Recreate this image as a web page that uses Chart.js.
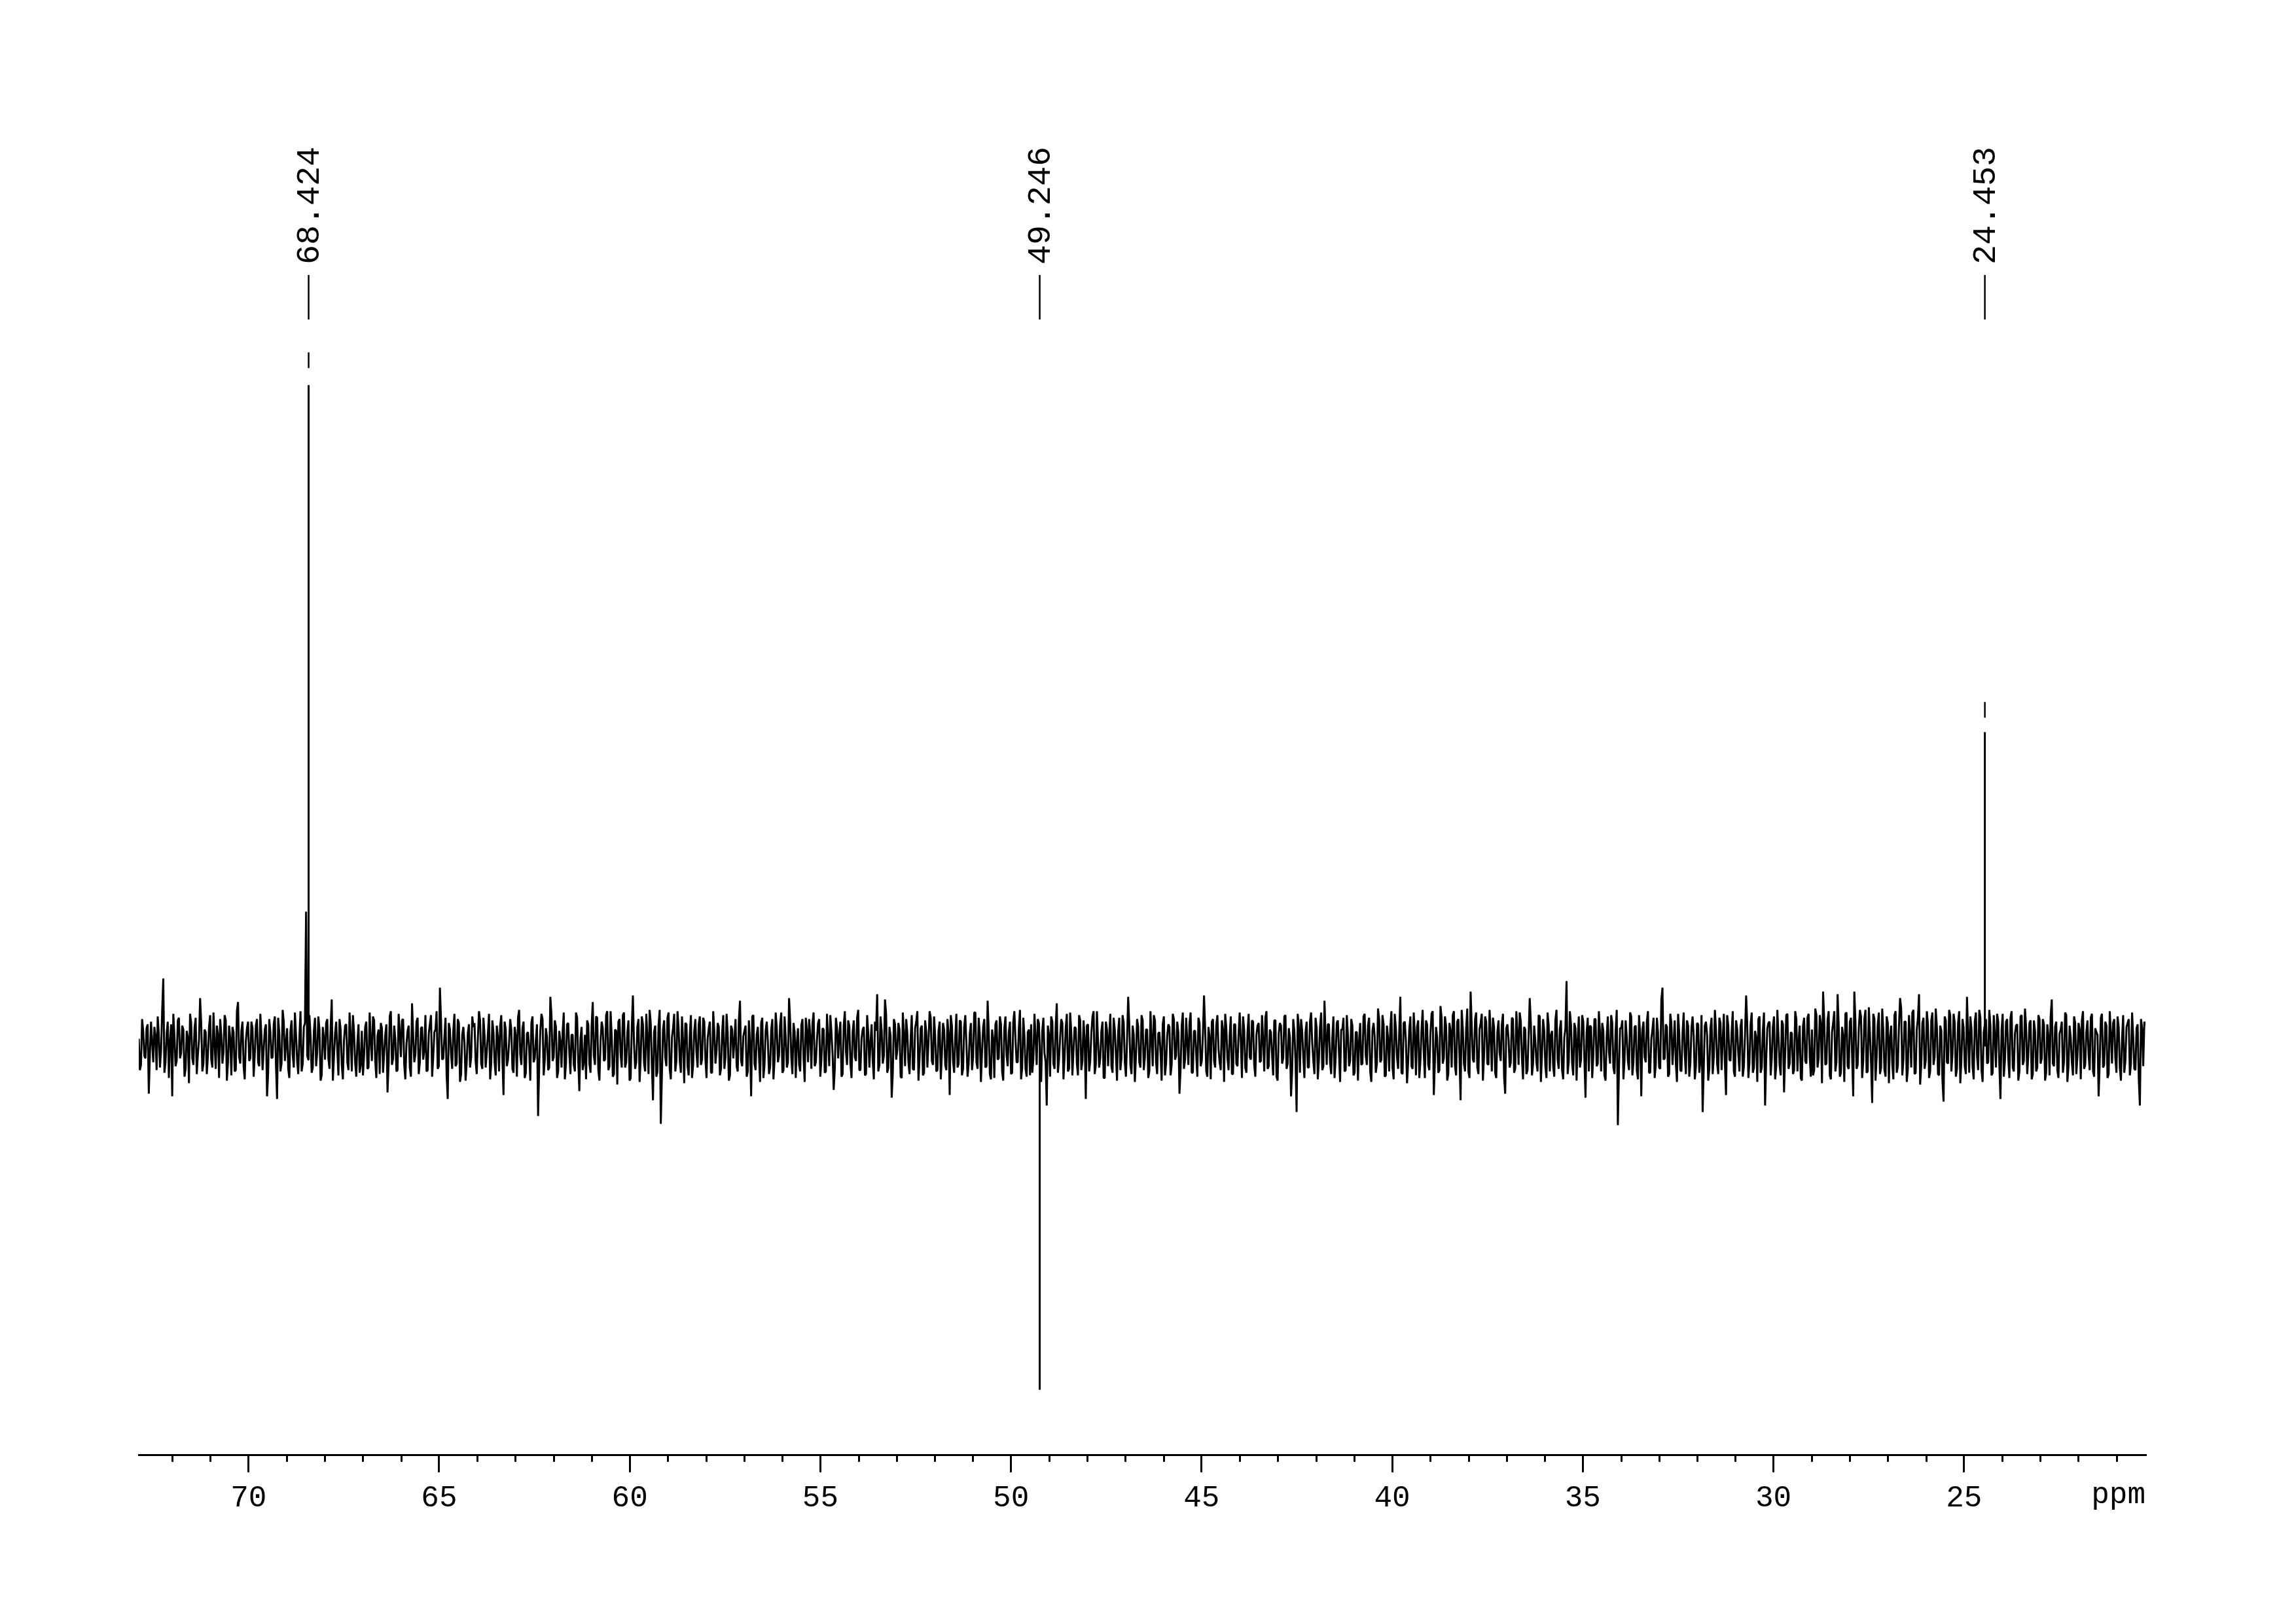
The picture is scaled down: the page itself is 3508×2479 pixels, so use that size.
<!DOCTYPE html>
<html>
<head>
<meta charset="utf-8">
<title>DEPT spectrum</title>
<script src="https://cdn.jsdelivr.net/npm/chart.js@4.4.1/dist/chart.umd.min.js"></script>
<style>
  html, body { margin: 0; padding: 0; background: #fff; }
  #spec { display: block; }
</style>
</head>
<body>
<canvas id="spec" width="3508" height="2479"></canvas>
<script>
// ---- data (intensity in arbitrary units, ppm on x) ----
const ppmLeft = 72.88;
const ppmRight = 20.24;

// baseline noise, two interleaved halves sampled evenly from ppmLeft to ppmRight
const noiseA = [
  6,-14,12,-9,17,-6,3,15,-18,9,-3,52,-12,19,4,-38,8,-11,22,-5,13,-17,7,25,-9,14,-21,5,18,-13,11,-7,24,-16,2,16,-24,9,-4,20,-12,6,15,-19,27,-8,12,-15,4,19,
  -9,14,-6,21,-15,8,-2,17,-20,11,-8,23,-40,10,-13,19,3,-17,12,-6,26,-11,7,-19,15,103,-10,9,-16,22,-4,13,-22,6,18,-9,14,-26,10,-3,21,-14,5,17,-18,8,24,-12,3,-20,
  12,-7,19,-16,4,23,-11,8,-21,14,-5,17,-13,27,-9,6,-18,11,20,-14,2,16,-23,9,-6,22,-12,15,-3,-19,10,24,-8,13,-17,45,-10,7,-22,18,-6,12,-15,21,-27,9,3,-12,17,-8,
  15,-11,6,20,-17,9,-4,25,-13,11,-22,7,16,-9,19,-15,3,13,-20,8,22,-6,14,-24,10,-2,18,-12,5,-53,12,21,-10,7,-16,24,-8,15,-19,4,11,-25,17,-5,9,-14,26,-11,6,-18,
  9,20,-13,16,-7,23,-18,4,14,-10,27,-15,8,-21,12,19,-6,24,-16,10,-26,15,2,-12,21,-9,17,-19,6,28,-14,11,-23,16,-59,13,-8,22,-17,7,25,-11,14,-20,3,18,-15,9,-24,12,
  -5,17,-14,22,-9,6,19,-20,11,-3,15,-17,24,-8,10,-22,13,5,-15,20,-11,8,16,-19,2,23,-13,9,-6,18,-24,12,4,-16,21,-10,14,-7,26,-18,7,-12,19,-21,11,3,-14,16,-9,22,
  -12,8,18,-15,5,21,-10,13,-19,7,24,-6,-17,14,9,-23,16,-4,20,-13,11,-8,22,-18,6,15,-21,10,3,-11,19,40,-14,12,-7,25,-16,8,-20,17,-3,13,-24,9,21,-12,6,-17,14,27,
  -9,16,-20,11,4,22,-14,8,-18,19,-6,13,-18,10,24,-11,7,-16,20,-22,15,2,-13,18,-8,26,-17,9,-4,21,-15,12,-25,6,17,-10,23,-19,14,-7,11,-21,19,5,-12,28,-16,8,-23,13,
  17,-10,6,21,-16,12,-5,-45,9,23,-13,15,-20,7,18,-8,25,-17,11,-3,14,-22,20,-11,6,16,-19,10,27,-14,4,-9,19,-24,13,8,-15,22,-6,11,-18,24,-12,5,17,-21,9,-7,15,-16,
  20,-8,13,-19,6,24,-12,10,-4,17,-22,8,15,-14,21,-7,11,-17,26,-10,3,18,-20,12,-6,22,-15,9,14,-23,7,19,-11,16,-2,-18,13,25,-9,8,-21,17,-13,10,4,23,-16,11,-8,20,
  -14,9,18,-11,5,22,-17,13,-6,20,-23,10,16,-9,24,-13,7,-19,12,-50,15,21,-8,11,-16,19,3,-21,14,-10,26,-15,8,17,-12,6,-24,18,-5,13,22,-18,9,-11,16,-20,11,4,-14,23,
  -7,16,-19,12,8,-13,21,-10,17,-22,6,14,-16,25,-8,11,-20,18,4,-12,23,-17,9,15,-24,13,-5,20,-14,10,27,-11,7,-18,22,-9,16,-21,12,24,-15,19,-7,28,-13,14,-19,42,-10,21,
  -16,13,25,-8,19,-14,9,22,-20,11,-5,17,-23,14,6,-12,21,-17,10,26,-9,15,-21,8,18,-13,4,-19,23,-6,12,-24,16,9,-15,20,-10,13,-18,7,50,-11,17,-22,14,5,-16,24,-9,11,
  -19,15,-7,21,-13,10,18,-22,8,-4,24,-16,12,-60,14,20,-10,7,-18,23,-12,16,-25,9,13,-8,19,-20,6,22,-14,11,-17,45,-9,15,-21,18,3,-13,25,-18,10,-6,20,-23,14,8,-15,17,
  -11,-50,16,9,-17,22,-8,13,-21,18,5,-14,24,-10,11,-19,20,-6,15,-23,9,17,-12,26,-16,7,21,-20,12,-45,14,19,-9,23,-15,8,-22,17,-5,25,-13,10,-18,21,4,-24,16,-11,22,-7,
  13,-18,24,-9,17,42,-14,20,-22,11,27,-12,16,-20,8,25,-15,19,-7,42,-17,14,23,-11,28,-19,10,-43,21,-8,26,-16,12,-23,18,7,-13,24,-20,15,29,-10,19,-17,9,26,-21,13,40,-14,
  22,-11,17,-19,26,-8,15,-22,12,-42,20,-13,24,-6,18,-17,27,-10,14,-21,9,23,-15,19,-7,28,-18,11,21,-12,16,-20,8,25,-14,13,-23,19,-9,22,-16,10,17,-19,24,-11,15,-6,20,-21,
  12,-16,21,-9,17,-20,8,23,-13,15,-18,10,19,-11,24,-15,7,-22,18,-8,13,20,-17,11,-6,22,-19,14,9,-12,25,-14,16,-21,10,18,-9,23,-16,6,-20,15,21,-13,8,-18,17,-45,14,19
];
const noiseB = [
  -18,21,-7,14,-36,19,-12,8,23,-16,28,-20,10,-24,17,25,-15,20,-9,16,-23,12,-28,18,-14,22,-6,37,-19,13,-21,15,-10,26,-17,9,21,-13,24,-26,16,-22,11,-18,34,-13,19,-25,14,-11,
  19,-23,16,-12,25,-18,13,-38,21,-9,17,-14,22,-19,28,-11,14,-24,20,-16,9,-21,27,-13,18,-7,24,-20,12,-15,23,-26,15,-10,21,-17,36,-8,19,-22,13,-25,16,-12,26,-19,11,-23,17,-14,
  -22,15,-17,26,-11,20,-24,13,18,-20,9,-35,23,-14,16,-19,25,-8,21,-25,12,-16,33,-12,19,-21,14,-10,24,-18,17,-23,11,27,-15,20,-9,22,-40,13,-17,25,-13,18,-21,15,-26,10,-16,23,
  18,-21,27,-13,22,-16,10,-25,20,-12,16,-19,24,-37,13,-10,21,-17,15,-23,28,-14,19,-20,11,-26,23,-9,17,-15,25,-22,14,-18,38,-11,20,-24,12,-16,26,-13,18,-21,9,-19,22,-34,15,-12,
  -25,17,-20,34,-14,22,-26,19,-11,24,-18,27,-23,13,-29,21,-16,26,-12,20,-24,39,-17,15,-27,23,-13,25,-21,18,-41,16,-19,28,-22,20,-15,26,-25,14,-19,27,-11,23,-28,17,-22,24,-14,21,
  -16,23,-10,19,-24,14,-20,27,-13,18,-22,11,-17,25,-26,16,-9,21,-19,35,-15,12,-23,20,-38,24,-18,15,-27,22,-14,19,-21,13,-25,26,-12,17,-20,23,-16,37,-8,18,-24,14,-19,21,-27,12,
  21,-17,26,-12,18,-23,14,-20,25,-15,11,-33,22,-9,19,-21,27,-14,16,-24,20,-11,28,-18,13,-22,24,-16,17,-25,12,-19,23,-13,36,-20,15,-39,21,-10,18,-23,26,-15,11,-21,24,-18,19,-26,
  14,-22,20,-16,27,-11,23,-19,12,-25,18,-14,21,-37,16,-20,25,-13,19,-17,24,-23,10,-18,26,-12,22,-27,15,-16,35,-21,13,-24,20,-9,17,-26,23,-15,19,-20,27,-12,14,-25,22,-17,11,-22,
  -20,25,-14,18,-27,22,-12,16,-23,19,-17,33,-10,21,-25,14,-19,26,-22,15,-13,24,-18,20,-40,17,-11,23,-21,27,-16,12,-24,19,-15,25,-20,13,-26,22,-9,18,-23,38,-14,16,-27,21,-12,24,
  -18,13,-24,27,-15,20,-21,11,-26,23,-13,17,-22,25,-10,19,-36,16,-17,22,-14,26,-20,12,-23,18,-11,39,-19,15,-25,21,-16,24,-12,20,-27,14,-18,23,-21,17,-15,26,-24,13,-20,25,-10,19,
  -23,16,-12,24,-19,27,-15,11,-22,20,-26,18,-13,23,-17,14,-38,21,-10,25,-20,12,-24,19,-16,26,-11,22,-25,15,-18,35,-14,17,-21,23,-9,20,-27,13,-19,24,-15,21,-22,11,-26,18,-13,25,
  -14,22,-27,18,-20,29,-12,24,-23,16,-19,27,-25,14,-17,38,-21,19,-28,13,-15,26,-22,20,-11,28,-24,17,-18,25,-37,15,-20,31,-13,23,-26,18,-16,27,-22,21,-41,14,-19,29,-24,16,-12,26,
  -21,18,-26,23,-13,28,-19,15,-24,20,-11,25,-36,17,-16,22,-20,27,-14,19,-25,13,-18,37,-22,16,-12,24,-27,21,-15,26,-19,12,-23,28,-17,20,-25,14,-21,27,-13,18,-26,23,-10,19,-39,22,
  16,-24,21,-15,27,-19,12,-26,23,-13,18,-21,28,-17,14,-25,20,-11,26,-22,15,-18,24,-38,19,-12,27,-20,13,-24,22,-16,36,-10,17,-23,25,-14,20,-27,11,-19,26,-21,16,-13,23,-25,18,-20,
  24,-17,19,-26,14,-21,28,-13,22,-18,25,-37,16,-11,27,-23,13,-19,21,-15,39,-24,17,-20,12,-27,23,-16,26,-10,18,-22,15,-25,28,-14,20,-35,24,-17,11,-21,27,-19,16,-26,22,-13,25,-23,
  -22,29,-16,24,-28,20,-13,27,-25,18,-19,40,-23,15,-27,26,-17,22,-38,19,-14,28,-24,21,-20,30,-12,25,-26,17,-21,29,-18,23,-28,16,-25,27,-15,37,-22,19,-27,24,-16,28,-20,22,-29,18,
  -17,27,-24,20,-14,29,-21,16,-26,23,-12,28,-19,25,-23,18,-28,21,-15,38,-20,14,-25,26,-18,22,-27,17,-13,28,-22,24,-16,19,-40,25,-11,21,-24,27,-19,16,-26,23,-14,29,-21,18,-25,20,
  -19,24,-13,21,-26,17,-22,36,-15,19,-24,13,-20,26,-27,16,-12,23,-21,18,-25,27,-14,20,-18,25,-23,11,-38,22,-16,19,-24,27,-13,21,-20,15,-26,24,-11,18,-22,26,-17,14,-25,21,-15,16
];

// picked peaks
const peakPpm = [68.424, 49.246, 24.453];
const peakHeight = [505, -262, 240];
const peakLabels = ['68.424', '49.246', '24.453'];

// break marks above clipped peaks
const clipPpm = [68.424, 24.453];
const clipLow = [518, 251];
const clipHigh = [530, 263];

// peak pick tick marks and label start
const labelTickLow = 555;
const labelTickHigh = 589;
const labelTextStart = 597;

// axis
const yMin = -312;
const yMax = 699;
const majorStep = 5;

// ---- build datasets ----
const noise = [];
noiseA.forEach((v, i) => {
    noise.push(v);
    if (noiseB[i] !== undefined) noise.push(noiseB[i]);
});
const step = (ppmLeft - ppmRight) / (noise.length - 1);
const spectrum = noise.map((v, i) => ({ x: ppmLeft - i * step, y: v }));
peakPpm.forEach((p, k) => {
    spectrum.push({ x: p, y: 0 }, { x: p, y: peakHeight[k] }, { x: p, y: 0 });
});
spectrum.sort((a, b) => b.x - a.x);

const segment = (x, y0, y1) => ({
    data: [{ x: x, y: y0 }, { x: x, y: y1 }],
    borderColor: '#000',
    borderWidth: 2.5,
    pointRadius: 0,
    showLine: true
});

const datasets = [{
    data: spectrum,
    borderColor: '#000',
    borderWidth: 3,
    borderJoinStyle: 'bevel',
    pointRadius: 0,
    showLine: true,
    tension: 0
}];
clipPpm.forEach((p, k) => datasets.push(segment(p, clipLow[k], clipHigh[k])));
peakPpm.forEach(p => datasets.push(segment(p, labelTickLow, labelTickHigh)));

const FONT = '"Liberation Mono", "DejaVu Sans Mono", monospace';

// minor ticks, peak labels and the unit
const specDecor = {
    id: 'specDecor',
    afterDraw(chart) {
        const ctx = chart.ctx;
        const xs = chart.scales.x;
        const ys = chart.scales.y;
        ctx.save();
        ctx.strokeStyle = '#000';
        ctx.lineWidth = 3;
        for (let p = Math.ceil(ppmRight); p <= Math.floor(ppmLeft); p++) {
            if (p % majorStep === 0) continue;
            const px = Math.round(xs.getPixelForValue(p)) + 0.5;
            ctx.beginPath();
            ctx.moveTo(px, xs.top);
            ctx.lineTo(px, xs.top + 10);
            ctx.stroke();
        }

        ctx.fillStyle = '#000';
        ctx.font = '50px ' + FONT;
        ctx.textAlign = 'left';
        ctx.textBaseline = 'middle';
        peakPpm.forEach((p, k) => {
            ctx.save();
            ctx.translate(xs.getPixelForValue(p) + 2, ys.getPixelForValue(labelTextStart));
            ctx.rotate(-Math.PI / 2);
            ctx.fillText(peakLabels[k], 0, 0);
            ctx.restore();
        });

        ctx.font = '46px ' + FONT;
        ctx.textAlign = 'right';
        ctx.textBaseline = 'top';
        ctx.fillText('ppm', xs.right, xs.top + 38);
        ctx.restore();
    }
};

new Chart(document.getElementById('spec'), {
    type: 'scatter',
    data: { datasets },
    options: {
        responsive: false,
        animation: false,
        events: [],
        layout: { padding: { left: 212, right: 230, top: 200, bottom: 151 } },
        plugins: { legend: { display: false }, tooltip: { enabled: false } },
        scales: {
            x: {
                type: 'linear',
                position: 'bottom',
                reverse: true,
                min: ppmRight,
                max: ppmLeft,
                border: { display: true, color: '#000', width: 3 },
                grid: { drawOnChartArea: false, drawTicks: true, tickLength: 26, color: '#000', lineWidth: 3 },
                ticks: {
                    stepSize: majorStep,
                    includeBounds: false,
                    autoSkip: false,
                    maxRotation: 0,
                    padding: 12,
                    color: '#000',
                    font: { family: FONT, size: 46 },
                    callback: v => (v % majorStep === 0 ? String(v) : '')
                }
            },
            y: {
                type: 'linear',
                display: false,
                min: yMin,
                max: yMax
            }
        }
    },
    plugins: [specDecor]
});
</script>
</body>
</html>
